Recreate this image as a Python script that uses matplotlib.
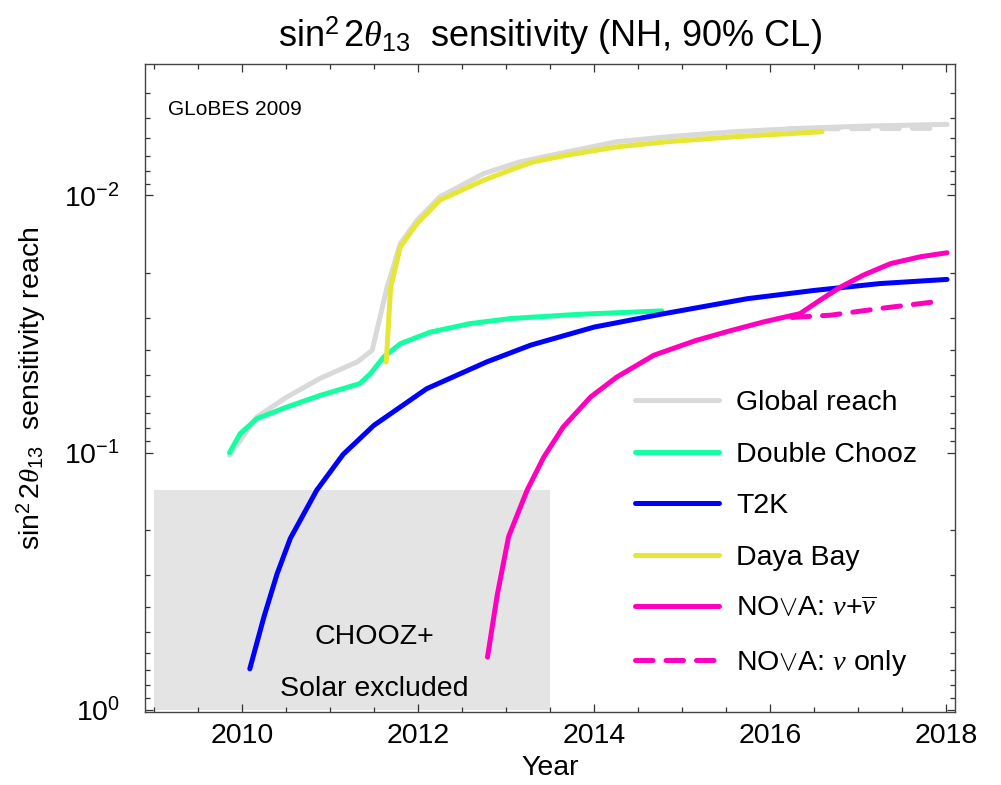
import numpy as np
import matplotlib
matplotlib.use('Agg')
import matplotlib.pyplot as plt
from matplotlib.ticker import LogLocator, NullFormatter, MultipleLocator

plt.rcParams['font.family'] = ['Liberation Sans', 'DejaVu Sans']
plt.rcParams['mathtext.fontset'] = 'custom'
plt.rcParams['mathtext.rm'] = 'Liberation Sans'
plt.rcParams['mathtext.it'] = 'Liberation Serif:italic'
plt.rcParams['mathtext.bf'] = 'Liberation Sans:bold'

# values (year, sin^2 2theta13 reach)
global_year = [2009.86, 2010.17, 2010.51, 2010.89, 2011.31, 2011.48, 2011.65, 2011.80,
               2011.99, 2012.25, 2012.75, 2013.16, 2013.69, 2014.26, 2014.83, 2015.59,
               2016.34, 2017.10, 2018.01]
global_reach = [0.1024, 0.0727, 0.0608, 0.0514, 0.0444, 0.0400, 0.0227, 0.01539,
                0.01248, 0.01012, 0.00821, 0.0074, 0.00677, 0.00618, 0.00591, 0.00565,
                0.00548, 0.00537, 0.00529]
global_nu_year = [2016.23, 2016.7, 2017.3, 2017.94]
global_nu_reach = [0.00549, 0.00550, 0.00549, 0.00548]

dc_year = [2009.86, 2009.98, 2010.17, 2010.51, 2010.89, 2011.34, 2011.46, 2011.61,
           2011.80, 2012.14, 2012.59, 2013.05, 2013.81, 2014.77]
dc_reach = [0.1, 0.0844, 0.0738, 0.0665, 0.0599, 0.0539, 0.0493, 0.0425,
            0.0377, 0.0340, 0.0315, 0.0301, 0.0290, 0.0281]

t2k_year = [2010.09, 2010.25, 2010.40, 2010.55, 2010.85, 2011.15, 2011.50, 2012.10,
            2012.78, 2013.28, 2014.00, 2014.75, 2015.74, 2016.50, 2017.25, 2018.01]
t2k_reach = [0.693, 0.436, 0.296, 0.2156, 0.140, 0.1016, 0.0783, 0.0564,
             0.0444, 0.0382, 0.0325, 0.0290, 0.0252, 0.0234, 0.0220, 0.0212]

db_year = [2011.64, 2011.69, 2011.80, 2011.99, 2012.25, 2012.75, 2013.16, 2013.31,
           2013.69, 2014.26, 2014.83, 2015.59, 2016.59]
db_reach = [0.0444, 0.0227, 0.01585, 0.01285, 0.01042, 0.00871, 0.00771, 0.0074,
            0.00697, 0.00647, 0.00618, 0.00591, 0.00565]

nova_year = [2012.79, 2012.90, 2013.03, 2013.24, 2013.43, 2013.65, 2013.96,
             2014.26, 2014.68, 2015.15, 2015.53, 2015.93, 2016.34, 2016.57, 2016.80,
             2017.06, 2017.37, 2017.71, 2018.01]
nova_reach = [0.624, 0.359, 0.212, 0.140, 0.104, 0.0795, 0.0608,
              0.0508, 0.0418, 0.0367, 0.0337, 0.0310, 0.0288, 0.0255, 0.0227,
              0.0204, 0.0184, 0.0173, 0.0167]
nova_nu_year = [2016.25, 2016.69, 2017.25, 2017.92]
nova_nu_reach = [0.0298, 0.0292, 0.0275, 0.0258]

chooz_years = [2009.0, 2013.5]
chooz_limit = 0.14

fs = 20.5
lw = 3.6
dash = (0, (3.5, 2.6))

fig = plt.figure(figsize=(10.01, 7.85), dpi=100)
ax = fig.add_axes([0.1449, 0.093, 0.8091, 0.8255])

ax.fill_between(chooz_years, chooz_limit, 1.0, color='#e4e4e4', lw=0, zorder=0)
ax.text(2011.5, 0.52, 'CHOOZ+', fontsize=fs, ha='center', va='center')
ax.text(2011.5, 0.83, 'Solar excluded', fontsize=fs, ha='center', va='center')

kw = dict(lw=lw, solid_capstyle='round', dash_capstyle='round')
ax.plot(global_year, global_reach, color='#d9d9d9', label='Global reach', **kw)
ax.plot(global_nu_year, global_nu_reach, color='#d9d9d9', ls=dash, **kw)
ax.plot(dc_year, dc_reach, color='#14ffa0', label='Double Chooz', **kw)
ax.plot(t2k_year, t2k_reach, color='#0000ff', label='T2K', **kw)
ax.plot(db_year, db_reach, color='#e6e637', label='Daya Bay', **kw)
ax.plot(nova_year, nova_reach, color='#ff00bf', label=r'NO$\vee$A: $\nu$+$\overline{\nu}$', **kw)
ax.plot(nova_nu_year, nova_nu_reach, color='#ff00bf', ls=dash,
        label=r'NO$\vee$A: $\nu$ only', **kw)

ax.set_yscale('log')
ax.set_xlim(2008.9, 2018.1)
ax.set_ylim(1.02, 0.00308)
ax.xaxis.set_major_locator(MultipleLocator(2))
ax.xaxis.set_minor_locator(MultipleLocator(0.5))
ax.yaxis.set_major_locator(LogLocator(base=10))
ax.yaxis.set_minor_locator(LogLocator(base=10, subs=np.arange(2, 10)))
ax.yaxis.set_minor_formatter(NullFormatter())
ax.tick_params(which='both', direction='in', top=True, right=True, labelsize=fs,
               color='#333333', width=0.9)
ax.tick_params(which='major', length=6)
ax.tick_params(which='minor', length=3.5)
ax.tick_params(axis='x', pad=8)
ax.tick_params(axis='y', pad=18)
for sp in ax.spines.values():
    sp.set_color('#444444')
    sp.set_linewidth(1.0)

ax.set_xlabel('Year', fontsize=fs, labelpad=4)
ax.set_ylabel(r'sin$^2\,$2$\theta_{13}$  sensitivity reach', fontsize=fs, labelpad=12)
ax.set_title(r'sin$^2\,$2$\theta_{13}$  sensitivity (NH, 90% CL)', fontsize=26, pad=12)
ax.text(0.028, 0.93, 'GLoBES 2009', fontsize=15, transform=ax.transAxes, va='center')

ax.legend(loc='upper left', bbox_to_anchor=(0.605, 0.497), fontsize=fs, frameon=False,
          borderpad=0, borderaxespad=0, handlelength=2.95, handletextpad=0.6,
          labelspacing=0.9)

fig.savefig('out.png', dpi=100)
